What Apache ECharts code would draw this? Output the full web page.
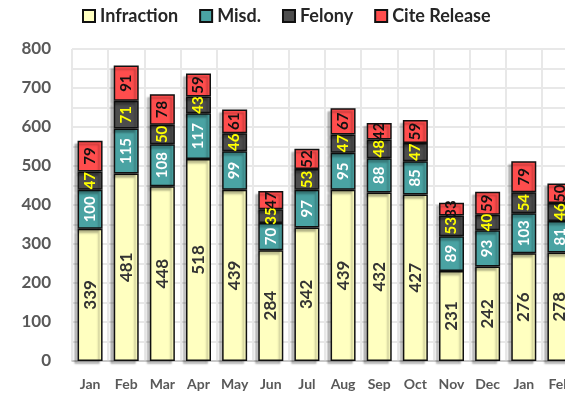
<!DOCTYPE html>
<html>
<head>
<meta charset="utf-8">
<script src="https://cdn.jsdelivr.net/npm/echarts@6/dist/echarts.min.js"></script>
<style>
  html, body { margin: 0; padding: 0; background: #fff; }
  #main { width: 565px; height: 401px; }
</style>
</head>
<body>
<div id="main"></div>
<script>
// months shown (the chart is cut off on the right after Feb)
var months = ["Jan", "Feb", "Mar", "Apr", "May", "Jun", "Jul", "Aug", "Sep", "Oct", "Nov", "Dec", "Jan", "Feb"];
var infraction = [339, 481, 448, 518, 439, 284, 342, 439, 432, 427, 231, 242, 276, 278];
var misd = [100, 115, 108, 117, 99, 70, 97, 95, 88, 85, 89, 93, 103, 81];
var felony = [47, 71, 50, 43, 46, 35, 53, 47, 48, 47, 53, 40, 54, 46];
var citeRelease = [79, 91, 78, 59, 61, 47, 52, 67, 42, 59, 33, 59, 79, 50];

var fontFam = "Lato, 'Open Sans', sans-serif";

function seg(name, data, fill, labelColor, labelSize) {
  return {
    name: name,
    type: "bar",
    stack: "total",
    data: data,
    barWidth: 25,
    itemStyle: {
      color: fill,
      borderColor: "#111",
      borderWidth: 1.5,
      shadowColor: "rgba(0,0,0,0.25)",
      shadowBlur: 2,
      shadowOffsetX: -3,
      shadowOffsetY: 3
    },
    label: {
      show: true,
      position: "inside",
      rotate: 90,
      color: labelColor,
      fontSize: labelSize,
      fontWeight: "bold",
      fontFamily: fontFam
    }
  };
}

var myChart = echarts.init(document.getElementById("main"));
var option = {
  animation: false,
  legend: {
    left: 77,
    top: 2,
    itemWidth: 12,
    itemHeight: 12,
    itemGap: 21,
    icon: "rect",
    textStyle: { fontSize: 18, fontWeight: "bold", color: "#262626", fontFamily: fontFam }
  },
  grid: { left: 72, top: 49, right: -13, bottom: 40, outerBoundsMode: "none", containLabel: false },
  xAxis: {
    type: "category",
    data: months,
    axisLine: { lineStyle: { color: "#BFBFBF", width: 1.5 } },
    axisTick: { show: false },
    axisLabel: { interval: 0, color: "#595959", fontSize: 14, fontWeight: "bold", fontFamily: fontFam, margin: 16 },
    splitLine: { show: true, interval: 0, lineStyle: { color: "#E8E8E8", width: 2 } }
  },
  yAxis: {
    type: "value",
    min: 0,
    max: 800,
    interval: 50,
    axisLine: { show: false },
    axisTick: { show: false },
    axisLabel: {
      color: "#595959",
      fontSize: 17,
      fontWeight: "bold",
      fontFamily: fontFam,
      margin: 21,
      formatter: function (v) { return v % 100 === 0 ? v : ""; }
    },
    splitLine: { lineStyle: { color: "#E8E8E8", width: 2 } }
  },
  series: [
    seg("Infraction", infraction, "#FFFFC0", "#333333", 17),
    seg("Misd.", misd, "#4AA3A3", "#FFFFFF", 15),
    seg("Felony", felony, "#4D4D4D", "#FFFF00", 15),
    seg("Cite Release", citeRelease, "#FF4D4D", "#111111", 15)
  ]
};
myChart.setOption(option);
</script>
</body>
</html>
